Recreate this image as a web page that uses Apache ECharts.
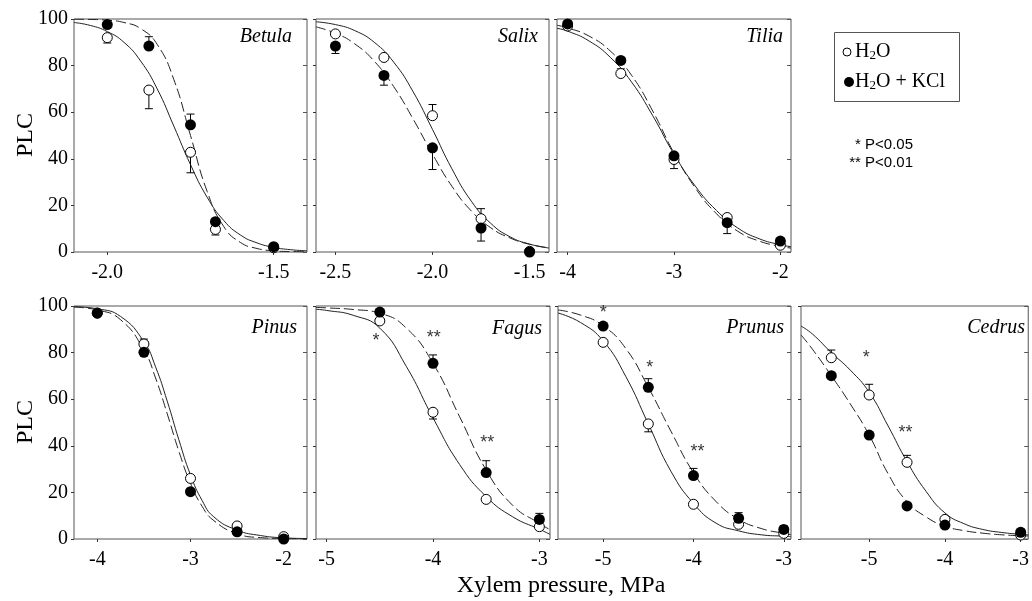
<!DOCTYPE html>
<html>
<head>
<meta charset="utf-8">
<script src="https://cdn.jsdelivr.net/npm/echarts@6/dist/echarts.min.js"></script>
<style>
  html, body { margin: 0; padding: 0; background: #fff; }
  #chart { width: 1032px; height: 601px; }
</style>
</head>
<body>
<div id="chart"></div>
<script>
// 物种名
var species = ['Betula', 'Salix', 'Tilia', 'Pinus', 'Fagus', 'Prunus', 'Cedrus'];

// x 轴刻度标签
var betulaTicks = [-2.0, -1.5];
var salixTicks = [-2.5, -2.0, -1.5];
var tiliaTicks = [-4, -3, -2];
var pinusTicks = [-4, -3, -2];
var fagusTicks = [-5, -4, -3];
var prunusTicks = [-5, -4, -3];
var cedrusTicks = [-5, -4, -3];
var plcTicks = [0, 20, 40, 60, 80, 100];

// 测量点 (xylem pressure, PLC), err = 误差线长度 (正为向上, 负为向下)
var betulaP = [-2.0, -1.875, -1.75, -1.675, -1.5];
var betulaH2O = [92, 69.5, 42.8, 9.7, 1.8];
var betulaH2OErr = [-2.3, -8, -8.8, -2.4, 0];
var betulaKCl = [97.6, 88.4, 54.6, 13, 2.3];
var betulaKClErr = [0, 4, 4.6, 0, 0];

var salixP = [-2.5, -2.25, -2.0, -1.75, -1.5];
var salixH2O = [93.6, 83.5, 58.5, 14.3, 0.3];
var salixH2OErr = [0, 0, 4.8, 4.3, 0];
var salixKCl = [88.4, 75.8, 44.7, 10.3, 0];
var salixKClErr = [-3.2, -4.2, -9.3, -5.6, 0];

var tiliaP = [-4, -3.5, -3, -2.5, -2];
var tiliaH2O = [97, 76.6, 39.7, 14.8, 2.9];
var tiliaH2OErr = [0, 2, -3.9, 0, 0];
var tiliaKCl = [97.9, 82.2, 41.3, 12.6, 4.7];
var tiliaKClErr = [0, 0, 0, -4.7, -2];

var pinusP = [-4, -3.5, -3, -2.5, -2];
var pinusH2O = [97, 83.7, 26, 5.6, 1];
var pinusH2OErr = [0, 2.1, 0, 0, 0];
var pinusKCl = [96.9, 80.1, 20.3, 3.1, 0];
var pinusKClErr = [0, 0, 0, 0, 0];

var fagusP = [-4.5, -4, -3.5, -3];
var fagusH2O = [93.6, 54.4, 17, 5.3];
var fagusH2OErr = [0, -2.9, 0, 0];
var fagusKCl = [97.4, 75.4, 28.5, 8.4];
var fagusKClErr = [0, 3.6, 5.1, 2.6];

var prunusP = [-5, -4.5, -4, -3.5, -3];
var prunusH2O = [84.4, 49.4, 14.9, 6.3, 2.4];
var prunusH2OErr = [0, -3.4, 0, 0, 0];
var prunusKCl = [91.4, 65.1, 27.2, 8.9, 4.1];
var prunusKClErr = [0, 3.7, 3.1, 2.4, 1.5];

var cedrusP = [-5.5, -5, -4.5, -4, -3];
var cedrusH2O = [77.8, 61.8, 32.9, 8.4, 1.7];
var cedrusH2OErr = [3.3, 4.6, 3, 0, 0];
var cedrusKCl = [70.1, 44.6, 14.2, 6, 2.9];
var cedrusKClErr = [0, 0, 0, 0, 0];

// 拟合曲线
var betulaCurveP = [-2.1, -2.05, -2.0, -1.95, -1.9, -1.85, -1.8, -1.75, -1.7, -1.65, -1.6, -1.55, -1.5, -1.45, -1.4];
var betulaCurveH2O = [98.5, 97.2, 94.6, 90, 82, 70, 54, 37.5, 23.5, 13.5, 7.3, 3.9, 2, 1, 0.5];
var betulaCurveKCl = [99.9, 99.8, 99.5, 98.5, 95.9, 89.1, 74, 50, 26, 10.9, 4.1, 1.5, 0.5, 0.2, 0.1];

var salixCurveP = [-2.6, -2.5, -2.4, -2.3, -2.2, -2.1, -2.0, -1.9, -1.8, -1.7, -1.6, -1.5, -1.4];
var salixCurveH2O = [98.8, 97.6, 95, 90, 81.5, 68.8, 52.6, 35.7, 21.8, 12.3, 6.5, 3.4, 1.7];
var salixCurveKCl = [96.6, 93.9, 89.3, 81.9, 71, 57.1, 42, 28.2, 17.6, 10.4, 6, 3.3, 1.8];

var tiliaCurveP = [-4.1, -4.0, -3.8, -3.6, -3.4, -3.2, -3.0, -2.8, -2.6, -2.4, -2.2, -2.0, -1.9];
var tiliaCurveH2O = [96, 94.8, 90.6, 83.6, 73, 58.5, 42, 28.3, 17.8, 10.3, 5.7, 3.1, 2.3];
var tiliaCurveKCl = [97.3, 96.2, 92.7, 86.3, 75.9, 60.5, 42.5, 27.5, 16.4, 8.9, 4.7, 2.4, 1.7];

var pinusCurveP = [-4.25, -4.0, -3.75, -3.5, -3.375, -3.25, -3.125, -3.0, -2.875, -2.75, -2.5, -2.25, -2.0, -1.75];
var pinusCurveH2O = [99.7, 98.8, 95.5, 84.7, 73.9, 59.2, 42.6, 27.5, 16.5, 9.5, 3.8, 1.5, 0.5, 0.2];
var pinusCurveKCl = [99.5, 98.3, 94.1, 81.1, 69.1, 53.8, 37.7, 23.9, 14, 7.9, 2.3, 0.6, 0.2, 0.05];

var fagusCurveP = [-5.1, -5.0, -4.75, -4.5, -4.25, -4.0, -3.75, -3.5, -3.25, -3.0, -2.9];
var fagusCurveH2O = [98.6, 98.1, 96, 90.5, 74, 52, 32, 18.2, 9.5, 4.2, 2];
var fagusCurveKCl = [99.4, 99.2, 98.5, 96.9, 90.5, 75.4, 52.5, 29.6, 14.4, 6.7, 4];

var prunusCurveP = [-5.5, -5.25, -5.0, -4.75, -4.5, -4.25, -4.0, -3.75, -3.5, -3.25, -3.0, -2.92];
var prunusCurveH2O = [97, 92.9, 85, 69.8, 49.4, 29.1, 15.3, 6.8, 3.5, 1.8, 1.2, 1];
var prunusCurveKCl = [98.3, 96.1, 91.5, 81.8, 65.1, 46.3, 28.5, 16.1, 8.5, 4.5, 2.4, 1.8];

var cedrusCurveP = [-5.9, -5.75, -5.5, -5.25, -5.0, -4.75, -4.5, -4.25, -4.0, -3.75, -3.5, -3.25, -3.0, -2.9];
var cedrusCurveH2O = [91.4, 88, 80, 72.5, 63, 48.5, 33.2, 20.5, 11.2, 6.6, 4.1, 2.8, 2, 1.8];
var cedrusCurveKCl = [87.6, 81.5, 70.1, 58, 44.6, 28, 16, 9.5, 5.5, 3.6, 2.5, 1.8, 1.4, 1.3];

// 显著性标记 [x, y, 文本]
var fagusStars = [[-4.535, 85, '*'], [-3.994, 86.1, '**'], [-3.49, 41, '**']];
var prunusStars = [[-5.0, 96.9, '*'], [-4.485, 73.2, '*'], [-3.956, 37.5, '**']];
var cedrusStars = [[-5.04, 77.6, '*'], [-4.52, 45.4, '**']];

// 布局
var SERIF = 'Liberation Serif, Times New Roman, serif';
var SANS = 'Liberation Sans, Arial, sans-serif';
var grids = [
    { left: 74, top: 19, width: 233, height: 233, xmin: -2.1, xmax: -1.4, dec: 1, lx: 292, ly: 37 },
    { left: 316, top: 19, width: 233, height: 233, xmin: -2.6, xmax: -1.4, dec: 1, lx: 538, ly: 37 },
    { left: 557, top: 19, width: 234, height: 233, xmin: -4.1, xmax: -1.9, dec: 0, lx: 783, ly: 37 },
    { left: 74, top: 306, width: 233, height: 233, xmin: -4.25, xmax: -1.75, dec: 0, lx: 297, ly: 328 },
    { left: 316, top: 306, width: 234, height: 233, xmin: -5.1, xmax: -2.9, dec: 0, lx: 542, ly: 329 },
    { left: 558, top: 306, width: 233, height: 233, xmin: -5.5, xmax: -2.92, dec: 0, lx: 784, ly: 328 },
    { left: 801, top: 306, width: 235, height: 233, xmin: -5.9, xmax: -2.9, dec: 0, lx: 1025, ly: 328 }
];

var panels = [
    { ticks: betulaTicks, P: betulaP, h: betulaH2O, he: betulaH2OErr, k: betulaKCl, ke: betulaKClErr, cP: betulaCurveP, cH: betulaCurveH2O, cK: betulaCurveKCl, stars: [] },
    { ticks: salixTicks, P: salixP, h: salixH2O, he: salixH2OErr, k: salixKCl, ke: salixKClErr, cP: salixCurveP, cH: salixCurveH2O, cK: salixCurveKCl, stars: [] },
    { ticks: tiliaTicks, P: tiliaP, h: tiliaH2O, he: tiliaH2OErr, k: tiliaKCl, ke: tiliaKClErr, cP: tiliaCurveP, cH: tiliaCurveH2O, cK: tiliaCurveKCl, stars: [] },
    { ticks: pinusTicks, P: pinusP, h: pinusH2O, he: pinusH2OErr, k: pinusKCl, ke: pinusKClErr, cP: pinusCurveP, cH: pinusCurveH2O, cK: pinusCurveKCl, stars: [] },
    { ticks: fagusTicks, P: fagusP, h: fagusH2O, he: fagusH2OErr, k: fagusKCl, ke: fagusKClErr, cP: fagusCurveP, cH: fagusCurveH2O, cK: fagusCurveKCl, stars: fagusStars },
    { ticks: prunusTicks, P: prunusP, h: prunusH2O, he: prunusH2OErr, k: prunusKCl, ke: prunusKClErr, cP: prunusCurveP, cH: prunusCurveH2O, cK: prunusCurveKCl, stars: prunusStars },
    { ticks: cedrusTicks, P: cedrusP, h: cedrusH2O, he: cedrusH2OErr, k: cedrusKCl, ke: cedrusKClErr, cP: cedrusCurveP, cH: cedrusCurveH2O, cK: cedrusCurveKCl, stars: cedrusStars }
];

function zip(xs, ys) {
    return xs.map(function (x, i) { return [x, ys[i]]; });
}
function errData(xs, ys, es) {
    var out = [];
    for (var i = 0; i < xs.length; i++) {
        if (es[i]) out.push([xs[i], ys[i], ys[i] + es[i]]);
    }
    return out;
}
function renderErr(params, api) {
    var p = api.coord([api.value(0), api.value(1)]);
    var e = api.coord([api.value(0), api.value(2)]);
    var st = { stroke: '#000', lineWidth: 1 };
    return {
        type: 'group',
        children: [
            { type: 'line', shape: { x1: p[0], y1: p[1], x2: e[0], y2: e[1] }, style: st },
            { type: 'line', shape: { x1: e[0] - 4, y1: e[1], x2: e[0] + 4, y2: e[1] }, style: st }
        ]
    };
}

var option = {
    animation: false,
    backgroundColor: '#fff',
    grid: [], xAxis: [], yAxis: [], series: [], graphic: []
};

grids.forEach(function (g, i) {
    var pnl = panels[i];
    var leftCol = (i === 0 || i === 3);
    option.grid.push({
        left: g.left, top: g.top, width: g.width, height: g.height,
        show: true, borderColor: '#555', borderWidth: 1, backgroundColor: '#fff'
    });
    option.xAxis.push({
        type: 'value', gridIndex: i, min: g.xmin, max: g.xmax,
        axisLine: { show: false },
        splitLine: { show: false },
        axisTick: { show: true, inside: false, length: 3, customValues: pnl.ticks, lineStyle: { color: '#333' } },
        axisLabel: {
            customValues: pnl.ticks, margin: 11, color: '#000', fontSize: 20, fontFamily: SERIF,
            formatter: (function (d) { return function (v) { return Number(v).toFixed(d); }; })(g.dec)
        }
    });
    option.yAxis.push({
        type: 'value', gridIndex: i, min: 0, max: 100, interval: 20,
        axisLine: { show: false },
        splitLine: { show: false },
        axisTick: { show: true, inside: false, length: 3, lineStyle: { color: '#333' } },
        axisLabel: { show: leftCol, margin: 6, color: '#000', fontSize: 20, fontFamily: SERIF }
    });
    // 右侧镜像刻度
    option.yAxis.push({
        type: 'value', gridIndex: i, min: 0, max: 100, interval: 20, position: 'right',
        axisLine: { show: false },
        splitLine: { show: false },
        axisTick: { show: true, inside: true, length: 4, lineStyle: { color: '#555' } },
        axisLabel: { show: false }
    });
    var yIdx = option.yAxis.length - 2;

    option.series.push({
        type: 'line', name: 'H2O', xAxisIndex: i, yAxisIndex: yIdx, z: 2,
        data: zip(pnl.cP, pnl.cH), showSymbol: false, smooth: 0.5,
        lineStyle: { color: '#222', width: 1 }
    });
    option.series.push({
        type: 'line', name: 'H2O + KCl', xAxisIndex: i, yAxisIndex: yIdx, z: 2,
        data: zip(pnl.cP, pnl.cK), showSymbol: false, smooth: 0.5,
        lineStyle: { color: '#222', width: 1, type: [10, 4] }
    });
    option.series.push({
        type: 'custom', xAxisIndex: i, yAxisIndex: yIdx, z: 3,
        renderItem: renderErr, encode: { x: 0, y: [1, 2] },
        data: errData(pnl.P, pnl.h, pnl.he).concat(errData(pnl.P, pnl.k, pnl.ke))
    });
    option.series.push({
        type: 'scatter', name: 'H2O', xAxisIndex: i, yAxisIndex: yIdx, z: 4,
        data: zip(pnl.P, pnl.h), symbol: 'circle', symbolSize: 10,
        itemStyle: { color: '#fff', borderColor: '#000', borderWidth: 1, opacity: 1 }
    });
    option.series.push({
        type: 'scatter', name: 'H2O + KCl', xAxisIndex: i, yAxisIndex: yIdx, z: 5,
        data: zip(pnl.P, pnl.k), symbol: 'circle', symbolSize: 11,
        itemStyle: { color: '#000', opacity: 1 }
    });
    if (pnl.stars.length) {
        option.series.push({
            type: 'scatter', xAxisIndex: i, yAxisIndex: yIdx, z: 6,
            data: pnl.stars, symbol: 'circle', symbolSize: 1,
            itemStyle: { color: 'rgba(0,0,0,0)' },
            label: {
                show: true, position: 'inside', offset: [0, 5],
                formatter: function (p) { return p.value[2]; },
                color: '#000', fontSize: 18, fontFamily: SANS
            },
            labelLayout: { hideOverlap: false }
        });
    }
    option.graphic.push({
        type: 'text', x: g.lx, y: g.ly, z: 10,
        style: { text: species[i], font: 'italic 20px ' + SERIF, fill: '#000', align: 'right', verticalAlign: 'middle' }
    });
});

// 轴标题
option.graphic.push(
    { type: 'text', x: 26, y: 135, rotation: Math.PI / 2, style: { text: 'PLC', font: '24px ' + SERIF, fill: '#000', align: 'center', verticalAlign: 'middle' } },
    { type: 'text', x: 26, y: 422, rotation: Math.PI / 2, style: { text: 'PLC', font: '24px ' + SERIF, fill: '#000', align: 'center', verticalAlign: 'middle' } },
    { type: 'text', x: 561, y: 586, style: { text: 'Xylem pressure, MPa', font: '24px ' + SERIF, fill: '#000', align: 'center', verticalAlign: 'middle' } }
);

// 图例
option.graphic.push(
    { type: 'rect', shape: { x: 834.5, y: 32.5, width: 125, height: 69 }, style: { fill: '#fff', stroke: '#555', lineWidth: 1 } },
    { type: 'circle', shape: { cx: 847, cy: 52, r: 4 }, style: { fill: '#fff', stroke: '#000', lineWidth: 1 } },
    { type: 'circle', shape: { cx: 849, cy: 82, r: 5 }, style: { fill: '#000' } },
    {
        type: 'text', x: 855, y: 52,
        style: {
            text: '{n|H}{s|2}{n|O}', fill: '#000', verticalAlign: 'middle',
            rich: { n: { fontSize: 20, fontFamily: SERIF, lineHeight: 22 }, s: { fontSize: 13, fontFamily: SERIF, lineHeight: 14, padding: [8, 0, 0, 0] } }
        }
    },
    {
        type: 'text', x: 855, y: 82,
        style: {
            text: '{n|H}{s|2}{n|O + KCl}', fill: '#000', verticalAlign: 'middle',
            rich: { n: { fontSize: 20, fontFamily: SERIF, lineHeight: 22 }, s: { fontSize: 13, fontFamily: SERIF, lineHeight: 14, padding: [8, 0, 0, 0] } }
        }
    },
    { type: 'text', x: 913, y: 145, style: { text: '* P<0.05', font: '15px ' + SANS, fill: '#000', align: 'right', verticalAlign: 'middle' } },
    { type: 'text', x: 913, y: 163, style: { text: '** P<0.01', font: '15px ' + SANS, fill: '#000', align: 'right', verticalAlign: 'middle' } }
);

var myChart = echarts.init(document.getElementById('chart'));
myChart.setOption(option);
window.addEventListener('resize', function () {
    myChart.resize();
});
</script>
</body>
</html>
